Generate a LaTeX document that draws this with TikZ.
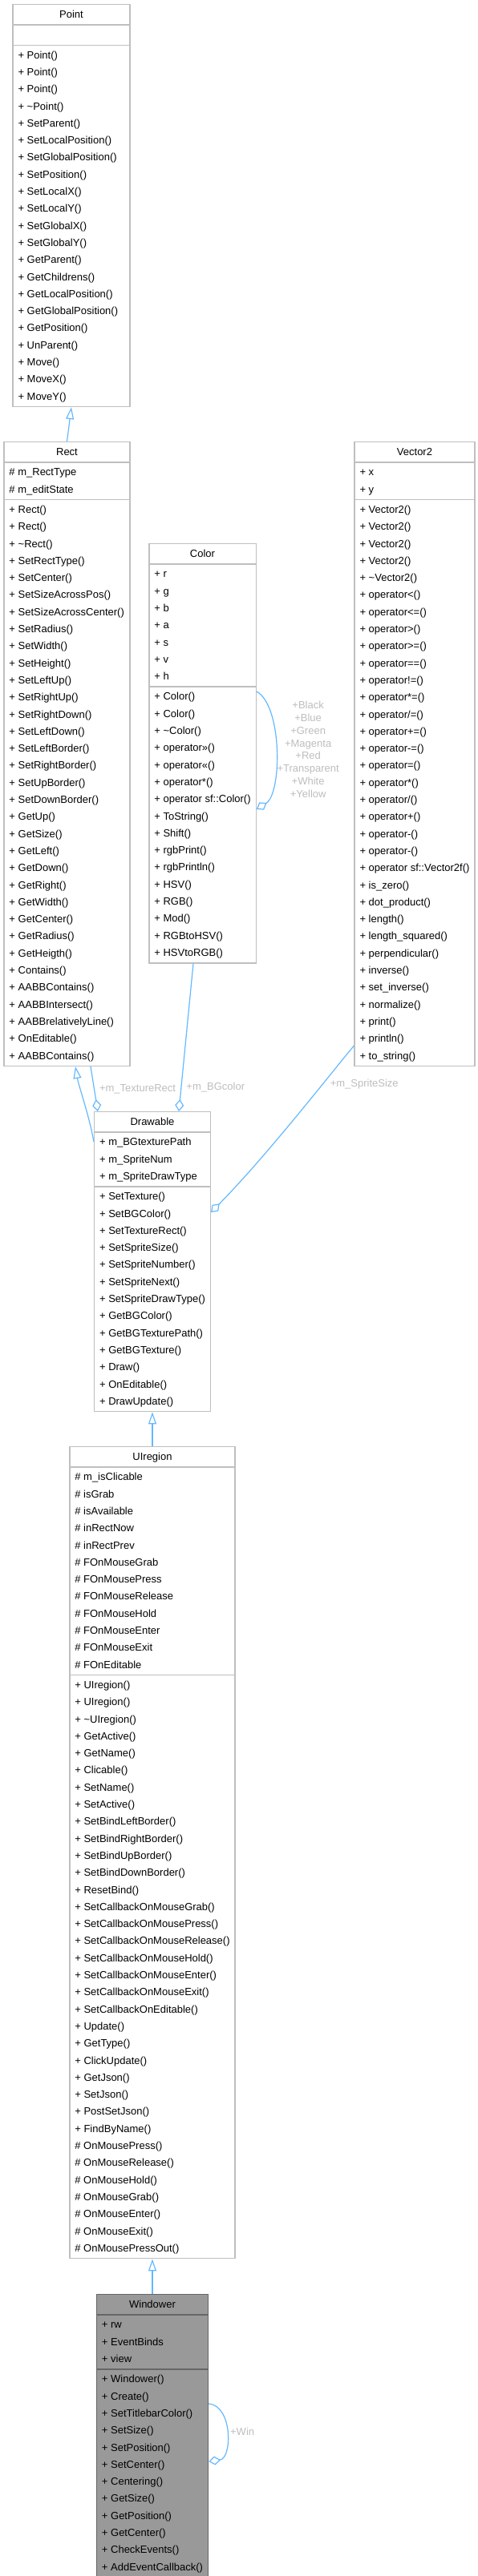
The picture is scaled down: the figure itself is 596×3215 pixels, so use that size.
\documentclass[tikz,border=0pt]{standalone}
\usepackage{fontspec}
\setmainfont{Liberation Sans}
\usepackage{xcolor}
\usepackage{tikz}
\usetikzlibrary{positioning,arrows.meta,shapes.multipart,calc}
\definecolor{EdgeBlue}{HTML}{63B8FF}
\definecolor{BoxGray}{HTML}{BFBFBF}
\definecolor{MainFill}{HTML}{999999}
\definecolor{MainBorder}{HTML}{666666}
\definecolor{LabelGray}{HTML}{BDBDBD}

\begin{document}
\begin{tikzpicture}[x=1pt,y=-1pt,
          cls/.style={rectangle split, rectangle split parts=3,
            rectangle split part align={center,left,left},
            draw=BoxGray, fill=white, line width=1.3pt, align=left,
            inner xsep=6.5pt, inner ysep=1.35pt, anchor=north,
            font=\fontsize{13}{21.3}\selectfont},
          mainclass/.style={cls, draw=MainBorder, fill=MainFill},
          inh/.style={-{Triangle[open,length=15pt,width=10pt]},EdgeBlue,line width=1.2pt},
          aggr/.style={-{Diamond[open,length=15pt,width=11pt]},EdgeBlue,line width=1.2pt},
          lbl/.style={text=LabelGray,inner sep=1pt,font=\fontsize{13}{15.9}\selectfont}]
        \useasboundingbox (0,0) rectangle (596,3215);
        % base classes
        \node[cls, minimum width=146pt] (point) at (89,5)
        {\strut Point\strut
          \nodepart{two}\strut
          \nodepart{three}\strut+ Point()\\+ Point()\\+ Point()\\+ \textasciitilde Point()\\
          + SetParent()\\+ SetLocalPosition()\\+ SetGlobalPosition()\\+ SetPosition()\\
          + SetLocalX()\\+ SetLocalY()\\+ SetGlobalX()\\+ SetGlobalY()\\+ GetParent()\\
          + GetChildrens()\\+ GetLocalPosition()\\+ GetGlobalPosition()\\+ GetPosition()\\
          + UnParent()\\+ Move()\\+ MoveX()\\+ MoveY()\strut};
        \node[cls, minimum width=157pt] (rect) at (83.5,551)
        {\strut Rect\strut
          \nodepart{two}\strut\# m\_RectType\\\# m\_editState\strut
          \nodepart{three}\strut+ Rect()\\+ Rect()\\+ \textasciitilde Rect()\\+ SetRectType()\\
          + SetCenter()\\+ SetSizeAcrossPos()\\+ SetSizeAcrossCenter()\\+ SetRadius()\\
          + SetWidth()\\+ SetHeight()\\+ SetLeftUp()\\+ SetRightUp()\\+ SetRightDown()\\
          + SetLeftDown()\\+ SetLeftBorder()\\+ SetRightBorder()\\+ SetUpBorder()\\
          + SetDownBorder()\\+ GetUp()\\+ GetSize()\\+ GetLeft()\\+ GetDown()\\+ GetRight()\\
          + GetWidth()\\+ GetCenter()\\+ GetRadius()\\+ GetHeigth()\\+ Contains()\\
          + AABBContains()\\+ AABBIntersect()\\+ AABBrelativelyLine()\\+ OnEditable()\\
          + AABBContains()\strut};
        \node[cls, minimum width=131pt] (color) at (252.5,678)
        {\strut Color\strut
          \nodepart{two}\strut+ r\\+ g\\+ b\\+ a\\+ s\\+ v\\+ h\strut
          \nodepart{three}\strut+ Color()\\+ Color()\\+ \textasciitilde Color()\\+ operator>>()\\
          + operator<<()\\+ operator*()\\+ operator sf::Color()\\+ ToString()\\+ Shift()\\
          + rgbPrint()\\+ rgbPrintln()\\+ HSV()\\+ RGB()\\+ Mod()\\+ RGBtoHSV()\\
          + HSVtoRGB()\strut};
        \node[cls, minimum width=148pt] (vector2) at (517,551)
        {\strut Vector2\strut
          \nodepart{two}\strut+ x\\+ y\strut
          \nodepart{three}\strut+ Vector2()\\+ Vector2()\\+ Vector2()\\+ Vector2()\\
          + \textasciitilde Vector2()\\+ operator<()\\+ operator<=()\\+ operator>()\\
          + operator>=()\\+ operator==()\\+ operator!=()\\+ operator*=()\\+ operator/=()\\
          + operator+=()\\+ operator-=()\\+ operator=()\\+ operator*()\\+ operator/()\\
          + operator+()\\+ operator-()\\+ operator-()\\+ operator sf::Vector2f()\\
          + is\_zero()\\+ dot\_product()\\+ length()\\+ length\_squared()\\
          + perpendicular()\\+ inverse()\\+ set\_inverse()\\+ normalize()\\+ print()\\
          + println()\\+ to\_string()\strut};
        % derived chain
        \node[cls, minimum width=142pt] (drawable) at (190,1387)
        {\strut Drawable\strut
          \nodepart{two}\strut+ m\_BGtexturePath\\+ m\_SpriteNum\\+ m\_SpriteDrawType\strut
          \nodepart{three}\strut+ SetTexture()\\+ SetBGColor()\\+ SetTextureRect()\\
          + SetSpriteSize()\\+ SetSpriteNumber()\\+ SetSpriteNext()\\+ SetSpriteDrawType()\\
          + GetBGColor()\\+ GetBGTexturePath()\\+ GetBGTexture()\\+ Draw()\\+ OnEditable()\\
          + DrawUpdate()\strut};
        \node[cls, minimum width=204pt] (uregion) at (190,1805)
        {\strut UIregion\strut
          \nodepart{two}\strut\# m\_isClicable\\\# isGrab\\\# isAvailable\\\# inRectNow\\
          \# inRectPrev\\\# FOnMouseGrab\\\# FOnMousePress\\\# FOnMouseRelease\\
          \# FOnMouseHold\\\# FOnMouseEnter\\\# FOnMouseExit\\\# FOnEditable\strut
          \nodepart{three}\strut+ UIregion()\\+ UIregion()\\+ \textasciitilde UIregion()\\
          + GetActive()\\+ GetName()\\+ Clicable()\\+ SetName()\\+ SetActive()\\
          + SetBindLeftBorder()\\+ SetBindRightBorder()\\+ SetBindUpBorder()\\
          + SetBindDownBorder()\\+ ResetBind()\\+ SetCallbackOnMouseGrab()\\
          + SetCallbackOnMousePress()\\+ SetCallbackOnMouseRelease()\\
          + SetCallbackOnMouseHold()\\+ SetCallbackOnMouseEnter()\\
          + SetCallbackOnMouseExit()\\+ SetCallbackOnEditable()\\+ Update()\\+ GetType()\\
          + ClickUpdate()\\+ GetJson()\\+ SetJson()\\+ PostSetJson()\\+ FindByName()\\
          \# OnMousePress()\\\# OnMouseRelease()\\\# OnMouseHold()\\\# OnMouseGrab()\\
          \# OnMouseEnter()\\\# OnMouseExit()\\\# OnMousePressOut()\strut};
        \node[mainclass, minimum width=136pt] (windower) at (190,2863)
        {\strut Windower\strut
          \nodepart{two}\strut+ rw\\+ EventBinds\\+ view\strut
          \nodepart{three}\strut+ Windower()\\+ Create()\\+ SetTitlebarColor()\\+ SetSize()\\
          + SetPosition()\\+ SetCenter()\\+ Centering()\\+ GetSize()\\+ GetPosition()\\
          + GetCenter()\\+ CheckEvents()\\+ AddEventCallback()\strut};
        % inheritance
        \draw[inh] (rect.north) -- (point.south);
        \draw[inh] ([yshift=-38pt]drawable.north west) .. controls (112,1395) and (98,1355) .. ([xshift=10.5pt]rect.south);
        \draw[inh] (uregion.north) -- (drawable.south);
        \draw[inh] (windower.north) -- (uregion.south);
        % members
        \draw[aggr] ([xshift=29.5pt]rect.south) -- node[lbl,right=5pt,pos=0.5] {+m\_TextureRect} ([xshift=5pt]drawable.north west);
        \draw[aggr] ([xshift=-11.5pt]color.south) -- node[lbl,right=5pt,pos=0.84] {+m\_BGcolor} ([xshift=33pt]drawable.north);
        \draw[aggr] ([yshift=26pt]vector2.south west) .. controls (420,1330) and (335,1440) .. node[lbl,right=8pt,pos=0.33] {+m\_SpriteSize} ([yshift=-126pt]drawable.north east);
        \draw[aggr] ([yshift=-185pt]color.north east) .. controls (352,880) and (352,990) .. node[lbl,right=0pt,align=center] {+Black\\+Blue\\+Green\\+Magenta\\+Red\\+Transparent\\+White\\+Yellow} ([yshift=-332pt]color.north east);
        \draw[aggr] ([yshift=-137pt]windower.north east) .. controls (290,3002) and (290,3068) .. node[lbl,right=3pt] {+Win} ([yshift=-209pt]windower.north east);
      \end{tikzpicture}
\end{document}
